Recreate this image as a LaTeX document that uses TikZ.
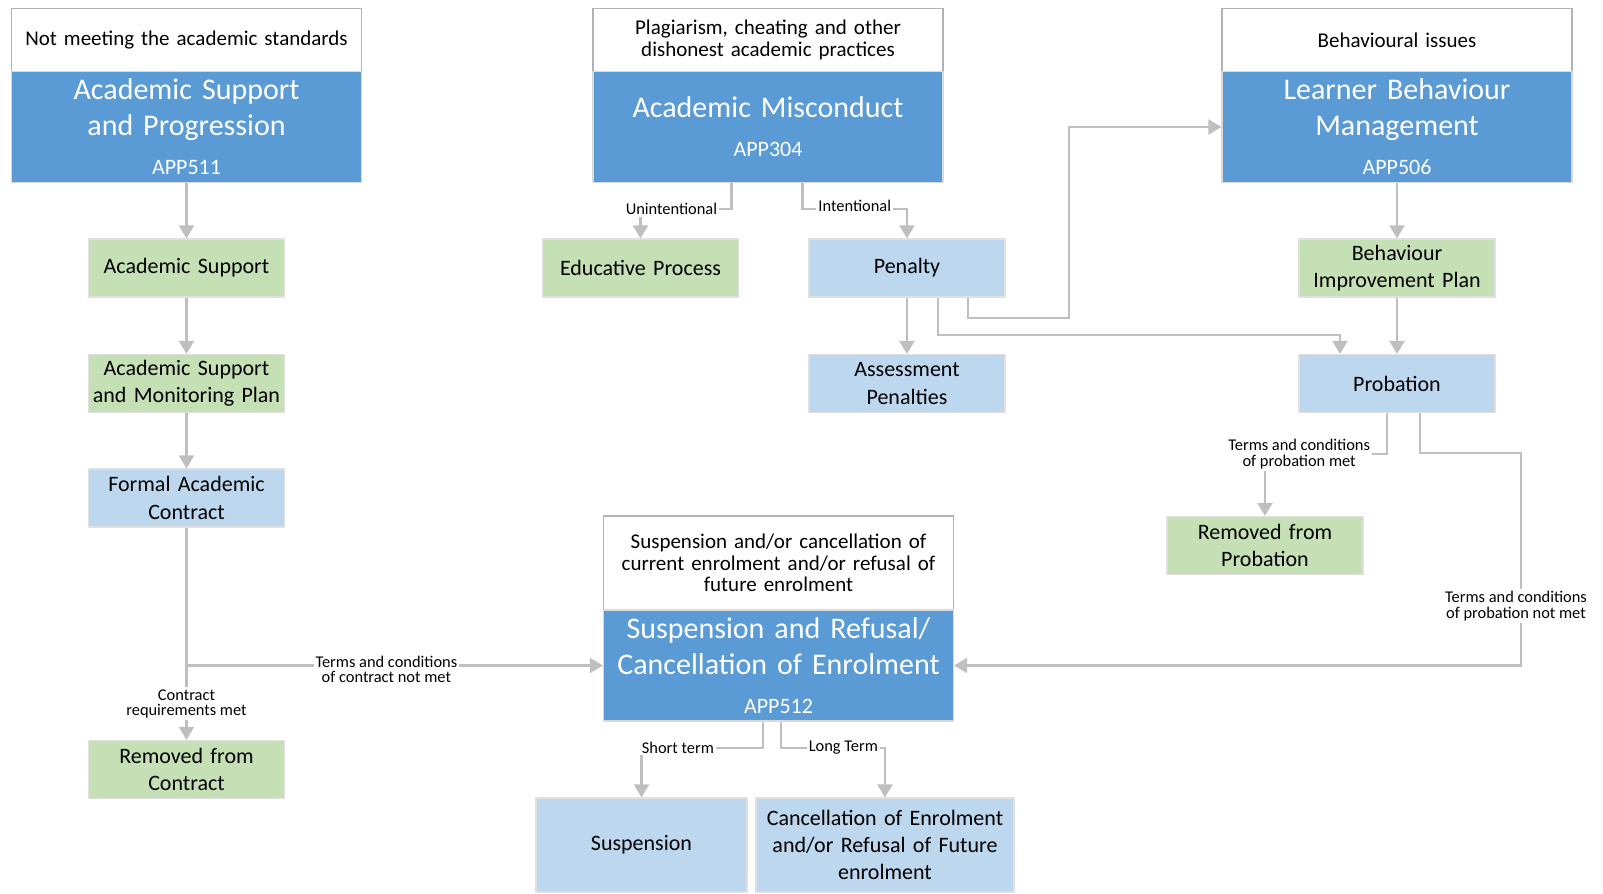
\documentclass[tikz,border=0pt]{standalone}
\usepackage{fontspec}
\setmainfont{Carlito}
\usetikzlibrary{arrows.meta}

\definecolor{titleblue}{HTML}{5B9BD5}
\definecolor{paleblue}{HTML}{BDD7EE}
\definecolor{palegreen}{HTML}{C5E0B4}
\definecolor{linegrey}{HTML}{BFBFBF}

\newcommand{\hdrfont}{\fontsize{10.5}{10.8}\selectfont}
\newcommand{\boxfont}{\fontsize{11}{13.6}\selectfont}
\newcommand{\ttlfont}{\fontsize{15}{18}\selectfont}
\newcommand{\appfont}{\fontsize{11}{13}\selectfont}
\newcommand{\lblfont}{\fontsize{8.2}{7.8}\selectfont}

\begin{document}
\begin{tikzpicture}[x=0.5pt, y=-0.5pt,
    hdr/.style={draw=black!30, line width=0.6pt, fill=white, minimum width=175pt, minimum height=31.5pt,
      text width=170pt, align=center, font=\hdrfont, inner sep=0pt},
    ttl/.style={draw=black!15, line width=0.6pt, fill=titleblue, text=white, minimum width=175pt,
      minimum height=55.5pt, text width=172pt, align=center, font=\ttlfont, inner sep=0pt},
    grn/.style={draw=black!12, line width=0.6pt, fill=palegreen, minimum width=98pt, minimum height=29pt,
      text width=95pt, align=center, font=\boxfont, inner sep=0pt},
    blu/.style={grn, fill=paleblue},
    arr/.style={draw=linegrey, line width=1.1pt, -{Triangle[length=6.5pt, width=7.5pt]}},
    lbl/.style={font=\lblfont, fill=white, inner sep=1pt, align=center}]
    \useasboundingbox (0,0) rectangle (1603,894);

    \node[hdr] (hdracad) at (186.5,40) {Not meeting the academic standards};
    \node[ttl] (progress) at (186.5,127) {Academic Support\\and Progression\\[1.5pt]{\appfont APP511}};
    \node[hdr] (hdrmis) at (768,40) {Plagiarism, cheating and other\\dishonest academic practices};
    \node[ttl] (misconduct) at (768,127) {Academic Misconduct\\[1.5pt]{\appfont APP304}};
    \node[hdr] (hdrbeh) at (1397,40) {Behavioural issues};
    \node[ttl] (learner) at (1397,127) {Learner Behaviour\\Management\\[1.5pt]{\appfont APP506}};

    \node[grn] (acsup) at (186.5,268) {Academic Support};
    \node[grn] (monplan) at (186.5,383.5) {Academic Support\\and Monitoring Plan};
    \node[blu] (contract) at (186.5,498) {Formal Academic\\Contract};
    \node[grn] (remcon) at (186.5,769.5) {Removed from\\Contract};
    \node[grn] (educ) at (640.5,268) {Educative Process};
    \node[blu] (penalty) at (907,268) {Penalty};
    \node[blu] (assess) at (907,383.5) {Assessment\\Penalties};
    \node[grn] (improve) at (1397,268) {Behaviour\\Improvement Plan};
    \node[blu] (probation) at (1397,383.5) {Probation};
    \node[grn] (remprob) at (1265,545.5) {Removed from\\Probation};

    \node[hdr, minimum height=47pt] (hdrsus) at (778.5,563) {Suspension and/or cancellation of\\current enrolment and/or refusal of\\future enrolment};
    \node[ttl] (suscan) at (778.5,665.5) {Suspension and Refusal/\\Cancellation of Enrolment\\[1.5pt]{\appfont APP512}};
    \node[blu, minimum width=105.5pt, minimum height=47pt, text width=100pt] (susp) at (641.5,845) {Suspension};
    \node[blu, minimum width=129pt, minimum height=47pt, text width=126pt] (cancel) at (885,845) {Cancellation of Enrolment\\and/or Refusal of Future\\enrolment};

    \coordinate (kinkA) at (1069,318);

    \draw[arr] (progress.south) -- (acsup.north);
    \draw[arr] (acsup) -- (monplan);
    \draw[arr] (monplan) -- (contract);
    \draw[arr] (contract) -- node[lbl, pos=0.83] {Contract\\requirements met} (remcon);
    \draw[arr] (contract.south) |- node[lbl, pos=0.74, yshift=-2pt] {Terms and conditions\\of contract not met} (suscan.west);

    \draw[arr] ([xshift=-18.25pt]misconduct.south) -- ++(0,26) -| node[lbl, pos=0.33] {Unintentional} (educ.north);
    \draw[arr] ([xshift=17.25pt]misconduct.south) -- ++(0,26) -| node[lbl, pos=0.25, yshift=1.5pt] {Intentional} (penalty.north);
    \draw[arr] (penalty) -- (assess);
    \draw[arr] ([xshift=30.5pt]penalty.south) |- (kinkA) |- (learner.west);
    \draw[arr] ([xshift=15.5pt]penalty.south) -- ++(0,37) -| ([xshift=-28.5pt]probation.north);

    \draw[arr] (learner.south) -- (improve.north);
    \draw[arr] (improve) -- (probation);
    \draw[arr] ([xshift=-5pt]probation.south) -- ++(0,41) -| node[lbl, pos=0.36] {Terms and conditions\\of probation met} (remprob.north);
    \draw[arr] ([xshift=11.5pt]probation.south) -- ++(0,40) -- ++(101,0) |- node[lbl, pos=0.36, xshift=-2.5pt] {Terms and conditions\\of probation not met} (suscan.east);

    \draw[arr] ([xshift=-7.75pt]suscan.south) -- ++(0,26) -| node[lbl, pos=0.35] {Short term} (susp.north);
    \draw[arr] ([xshift=1.25pt]suscan.south) -- ++(0,26) -| node[lbl, pos=0.3] {Long Term} (cancel.north);
  \end{tikzpicture}
\end{document}
